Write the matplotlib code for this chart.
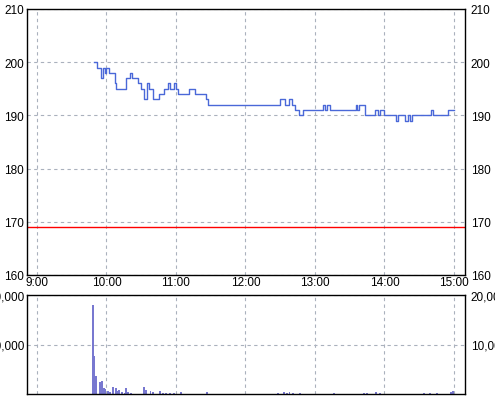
import matplotlib
matplotlib.use("Agg")
import matplotlib.pyplot as plt
from matplotlib.ticker import FixedLocator, FuncFormatter

# ---- data ----
price_times = ["9:49", "9:52", "9:55", "9:57", "9:59", "10:00", "10:02", "10:07", "10:08",
               "10:17", "10:20", "10:22", "10:27", "10:30", "10:32", "10:35", "10:37", "10:40",
               "10:45", "10:50", "10:53", "10:55", "10:58", "11:00", "11:02", "11:11", "11:16",
               "11:26", "11:28", "12:30", "12:34", "12:38", "12:40", "12:43", "12:46", "12:50",
               "13:07", "13:09", "13:10", "13:13", "13:35", "13:36", "13:38", "13:43", "13:52",
               "13:54", "13:56", "14:00", "14:10", "14:12", "14:18", "14:20", "14:22", "14:24",
               "14:40", "14:42", "14:55", "15:00"]
price_values = [200, 199, 197, 199, 198, 199, 198, 196, 195,
                197, 198, 197, 196, 195, 193, 196, 195, 193,
                194, 195, 196, 195, 196, 195, 194, 195, 194,
                193, 192, 193, 192, 193, 192, 191, 190, 191,
                192, 191, 192, 191, 192, 191, 192, 190, 191,
                190, 191, 190, 189, 190, 189, 190, 189, 190,
                191, 190, 191, 191]

ref_price = 169

vol_times = ["9:48", "9:49", "9:51", "9:54", "9:56", "9:58", "9:59", "10:01", "10:03",
             "10:06", "10:08", "10:10", "10:11", "10:13", "10:16", "10:17", "10:19", "10:21",
             "10:32", "10:34", "10:38", "10:40", "10:46", "10:49", "10:51", "10:55", "10:58",
             "11:04", "11:27", "12:28", "12:33", "12:36", "12:38", "12:41", "12:47", "13:16",
             "13:42", "13:45", "13:53", "13:56", "14:34", "14:39", "14:45", "14:57", "14:59"]
vol_values = [18000, 7700, 3700, 2400, 2600, 1150, 1000, 600, 470,
              1400, 1150, 600, 800, 340, 200, 1300, 400, 200,
              1500, 800, 600, 400, 600, 200, 200, 200, 200,
              470, 470, 300, 400, 300, 500, 300, 200, 200,
              300, 200, 400, 300, 200, 300, 300, 400, 600]

hour_labels = ["9:00", "10:00", "11:00", "12:00", "13:00", "14:00", "15:00"]
price_ticks = [160, 170, 180, 190, 200, 210]
vol_ticks = [10000, 20000]


def to_min(t):
    h, m = t.split(":")
    return (int(h) - 9) * 60 + int(m)


pt = [to_min(t) for t in price_times]
vt = [to_min(t) for t in vol_times]
hour_pos = [to_min(t) for t in hour_labels]

plt.rcParams['font.family'] = ['Liberation Sans', 'DejaVu Sans']
FS = 8.5
grid_kw = dict(color='#aab1bd', linestyle=(0, (3, 3)), linewidth=0.8)
XLIM = (-8.6, 369.5)

fig = plt.figure(figsize=(4.95, 4.02), dpi=100)
ax = fig.add_axes([27 / 495, 1 - 276 / 402, 438 / 495, 266 / 402])
axv = fig.add_axes([27 / 495, 1 - 395 / 402, 438 / 495, 99 / 402])

# price chart
ax.step(pt, price_values, where='post', color='#4a68d8', linewidth=1.0)
ax.axhline(ref_price, color='#ff0000', linewidth=1.0)
ax.set_xlim(*XLIM)
ax.set_ylim(160, 210)
ax.xaxis.set_major_locator(FixedLocator(hour_pos))
ax.set_xticklabels(hour_labels)
ax.yaxis.set_major_locator(FixedLocator(price_ticks))
ax.grid(True, **grid_kw)
ax.tick_params(axis='both', length=0, labelsize=FS)
ax.tick_params(axis='x', pad=1)
ax.tick_params(axis='y', which='both', left=True, right=True, labelleft=True,
               labelright=True, pad=2)
ax.yaxis.set_tick_params(which='major', pad=2)
for lab in ax.yaxis.get_ticklabels(which='major'):
    pass

# volume chart
axv.bar(vt, vol_values, width=1.7, color='#7878d0', align='center')
axv.set_xlim(*XLIM)
axv.set_ylim(0, 20000)
axv.xaxis.set_major_locator(FixedLocator(hour_pos))
axv.set_xticklabels([])
axv.yaxis.set_major_locator(FixedLocator(vol_ticks))
axv.yaxis.set_major_formatter(FuncFormatter(lambda v, p: f"{int(v):,}"))
axv.grid(True, **grid_kw)
axv.tick_params(axis='both', length=0, labelsize=FS)
axv.tick_params(axis='y', left=True, right=True, labelleft=True, labelright=True, pad=2)

# shift right-side labels a little further out, as in the reference
for a in (ax, axv):
    for t in a.yaxis.get_major_ticks():
        t.label2.set_x(1.0)
    a.tick_params(axis='y', which='major', pad=2)
    a.yaxis.get_major_ticks()  # ensure creation
    a.set_axisbelow(True)
    for s in a.spines.values():
        s.set_color('black')
        s.set_linewidth(1.0)
    a.set_facecolor('white')

import matplotlib.transforms as mtransforms
for a in (ax, axv):
    for t in a.yaxis.get_major_ticks():
        t.label2.set_transform(t.label2.get_transform() +
                               mtransforms.ScaledTranslation(3 / 100, 0, fig.dpi_scale_trans))

fig.savefig("out.png", dpi=100, facecolor='white')
